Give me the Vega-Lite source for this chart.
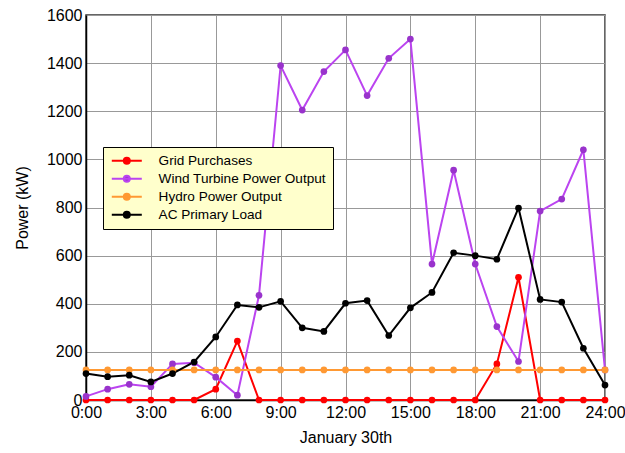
{
  "$schema": "https://vega.github.io/schema/vega-lite/v6.json",
  "autosize": {"type": "none"},
  "width": 519,
  "height": 385,
  "padding": {"left": 86, "top": 15, "right": 20, "bottom": 53},
  "background": "white",
  "config": {
    "font": "Liberation Sans",
    "view": {"stroke": "#333333", "strokeWidth": 1.5}
  },
  "data": {
    "values": [
      {"h": 0, "Grid Purchases": 0, "Wind Turbine Power Output": 15, "Hydro Power Output": 125, "AC Primary Load": 110},
      {"h": 1, "Grid Purchases": 0, "Wind Turbine Power Output": 45, "Hydro Power Output": 125, "AC Primary Load": 97},
      {"h": 2, "Grid Purchases": 0, "Wind Turbine Power Output": 65, "Hydro Power Output": 125, "AC Primary Load": 103},
      {"h": 3, "Grid Purchases": 0, "Wind Turbine Power Output": 55, "Hydro Power Output": 125, "AC Primary Load": 75},
      {"h": 4, "Grid Purchases": 0, "Wind Turbine Power Output": 150, "Hydro Power Output": 125, "AC Primary Load": 110},
      {"h": 5, "Grid Purchases": 0, "Wind Turbine Power Output": 155, "Hydro Power Output": 125, "AC Primary Load": 158},
      {"h": 6, "Grid Purchases": 45, "Wind Turbine Power Output": 95, "Hydro Power Output": 125, "AC Primary Load": 262},
      {"h": 7, "Grid Purchases": 245, "Wind Turbine Power Output": 20, "Hydro Power Output": 125, "AC Primary Load": 395},
      {"h": 8, "Grid Purchases": 0, "Wind Turbine Power Output": 435, "Hydro Power Output": 125, "AC Primary Load": 385},
      {"h": 9, "Grid Purchases": 0, "Wind Turbine Power Output": 1390, "Hydro Power Output": 125, "AC Primary Load": 410},
      {"h": 10, "Grid Purchases": 0, "Wind Turbine Power Output": 1205, "Hydro Power Output": 125, "AC Primary Load": 300},
      {"h": 11, "Grid Purchases": 0, "Wind Turbine Power Output": 1365, "Hydro Power Output": 125, "AC Primary Load": 285},
      {"h": 12, "Grid Purchases": 0, "Wind Turbine Power Output": 1455, "Hydro Power Output": 125, "AC Primary Load": 402},
      {"h": 13, "Grid Purchases": 0, "Wind Turbine Power Output": 1265, "Hydro Power Output": 125, "AC Primary Load": 413},
      {"h": 14, "Grid Purchases": 0, "Wind Turbine Power Output": 1420, "Hydro Power Output": 125, "AC Primary Load": 268},
      {"h": 15, "Grid Purchases": 0, "Wind Turbine Power Output": 1500, "Hydro Power Output": 125, "AC Primary Load": 383},
      {"h": 16, "Grid Purchases": 0, "Wind Turbine Power Output": 565, "Hydro Power Output": 125, "AC Primary Load": 447},
      {"h": 17, "Grid Purchases": 0, "Wind Turbine Power Output": 955, "Hydro Power Output": 125, "AC Primary Load": 612},
      {"h": 18, "Grid Purchases": 0, "Wind Turbine Power Output": 565, "Hydro Power Output": 125, "AC Primary Load": 600},
      {"h": 19, "Grid Purchases": 150, "Wind Turbine Power Output": 305, "Hydro Power Output": 125, "AC Primary Load": 585},
      {"h": 20, "Grid Purchases": 510, "Wind Turbine Power Output": 160, "Hydro Power Output": 125, "AC Primary Load": 798},
      {"h": 21, "Grid Purchases": 0, "Wind Turbine Power Output": 785, "Hydro Power Output": 125, "AC Primary Load": 418},
      {"h": 22, "Grid Purchases": 0, "Wind Turbine Power Output": 835, "Hydro Power Output": 125, "AC Primary Load": 407},
      {"h": 23, "Grid Purchases": 0, "Wind Turbine Power Output": 1040, "Hydro Power Output": 125, "AC Primary Load": 215},
      {"h": 24, "Grid Purchases": 0, "Wind Turbine Power Output": 125, "Hydro Power Output": 125, "AC Primary Load": 62}
    ]
  },
  "transform": [
    {"fold": ["Grid Purchases", "Wind Turbine Power Output", "Hydro Power Output", "AC Primary Load"], "as": ["series", "value"]}
  ],
  "encoding": {
    "x": {
      "field": "h", "type": "quantitative",
      "scale": {"domain": [0, 24], "nice": false},
      "axis": {
        "values": [0, 3, 6, 9, 12, 15, 18, 21, 24],
        "labelExpr": "datum.value + ':00'",
        "labelFlush": false,
        "labelOverlap": false,
        "title": "January 30th",
        "titleFontSize": 16, "titleFontWeight": "normal", "titleColor": "black", "titlePadding": 9,
        "labelFontSize": 16, "labelColor": "black", "labelPadding": 4,
        "ticks": false, "domainColor": "black", "domainWidth": 1.5,
        "gridColor": "#999999", "gridWidth": 1, "gridOpacity": 1
      }
    },
    "y": {
      "field": "value", "type": "quantitative",
      "scale": {"domain": [0, 1600], "nice": false},
      "axis": {
        "values": [0, 200, 400, 600, 800, 1000, 1200, 1400, 1600],
        "format": "d",
        "labelFlush": false,
        "title": "Power (kW)",
        "titleFontSize": 16, "titleFontWeight": "normal", "titleColor": "black", "titlePadding": 16,
        "labelFontSize": 16, "labelColor": "black", "labelPadding": 4,
        "ticks": false, "domainColor": "black", "domainWidth": 1.5,
        "gridColor": "#999999", "gridWidth": 1, "gridOpacity": 1
      }
    }
  },
  "layer": [
    {
      "mark": {"type": "line", "strokeWidth": 2},
      "encoding": {
        "color": {
          "field": "series", "type": "nominal",
          "scale": {
            "domain": ["Grid Purchases", "Wind Turbine Power Output", "Hydro Power Output", "AC Primary Load"],
            "range": ["#FF0000", "#BB44F0", "#FF9933", "#000000"]
          },
          "legend": {
            "title": null,
            "orient": "none",
            "legendX": 17,
            "legendY": 132,
            "fillColor": "#FFFFCC",
            "strokeColor": "#000000",
            "padding": 7,
            "labelFontSize": 13.6,
            "labelLimit": 400,
            "labelColor": "black",
            "labelOffset": 35,
            "rowPadding": 3,
            "symbolType": "M-1,0H5M1.4,0A0.6,0.6 0 1,1 2.6,0A0.6,0.6 0 1,1 1.4,0Z",
            "symbolSize": 100,
            "symbolStrokeWidth": 2,
            "encode": {
              "symbols": {
                "update": {
                  "fill": {"scale": "fill", "field": "value"},
                  "stroke": {"scale": "color", "field": "value"},
                  "strokeWidth": {"value": 2},
                  "opacity": {"value": 1}
                }
              }
            }
          }
        },
        "order": {"field": "h", "type": "quantitative"}
      }
    },
    {
      "mark": {"type": "point", "filled": true, "size": 45, "opacity": 1},
      "encoding": {
        "fill": {
          "field": "series", "type": "nominal",
          "scale": {
            "domain": ["Grid Purchases", "Wind Turbine Power Output", "Hydro Power Output", "AC Primary Load"],
            "range": ["#FF0000", "#9933CC", "#FF9933", "#000000"]
          },
          "legend": null
        }
      }
    }
  ]
}
